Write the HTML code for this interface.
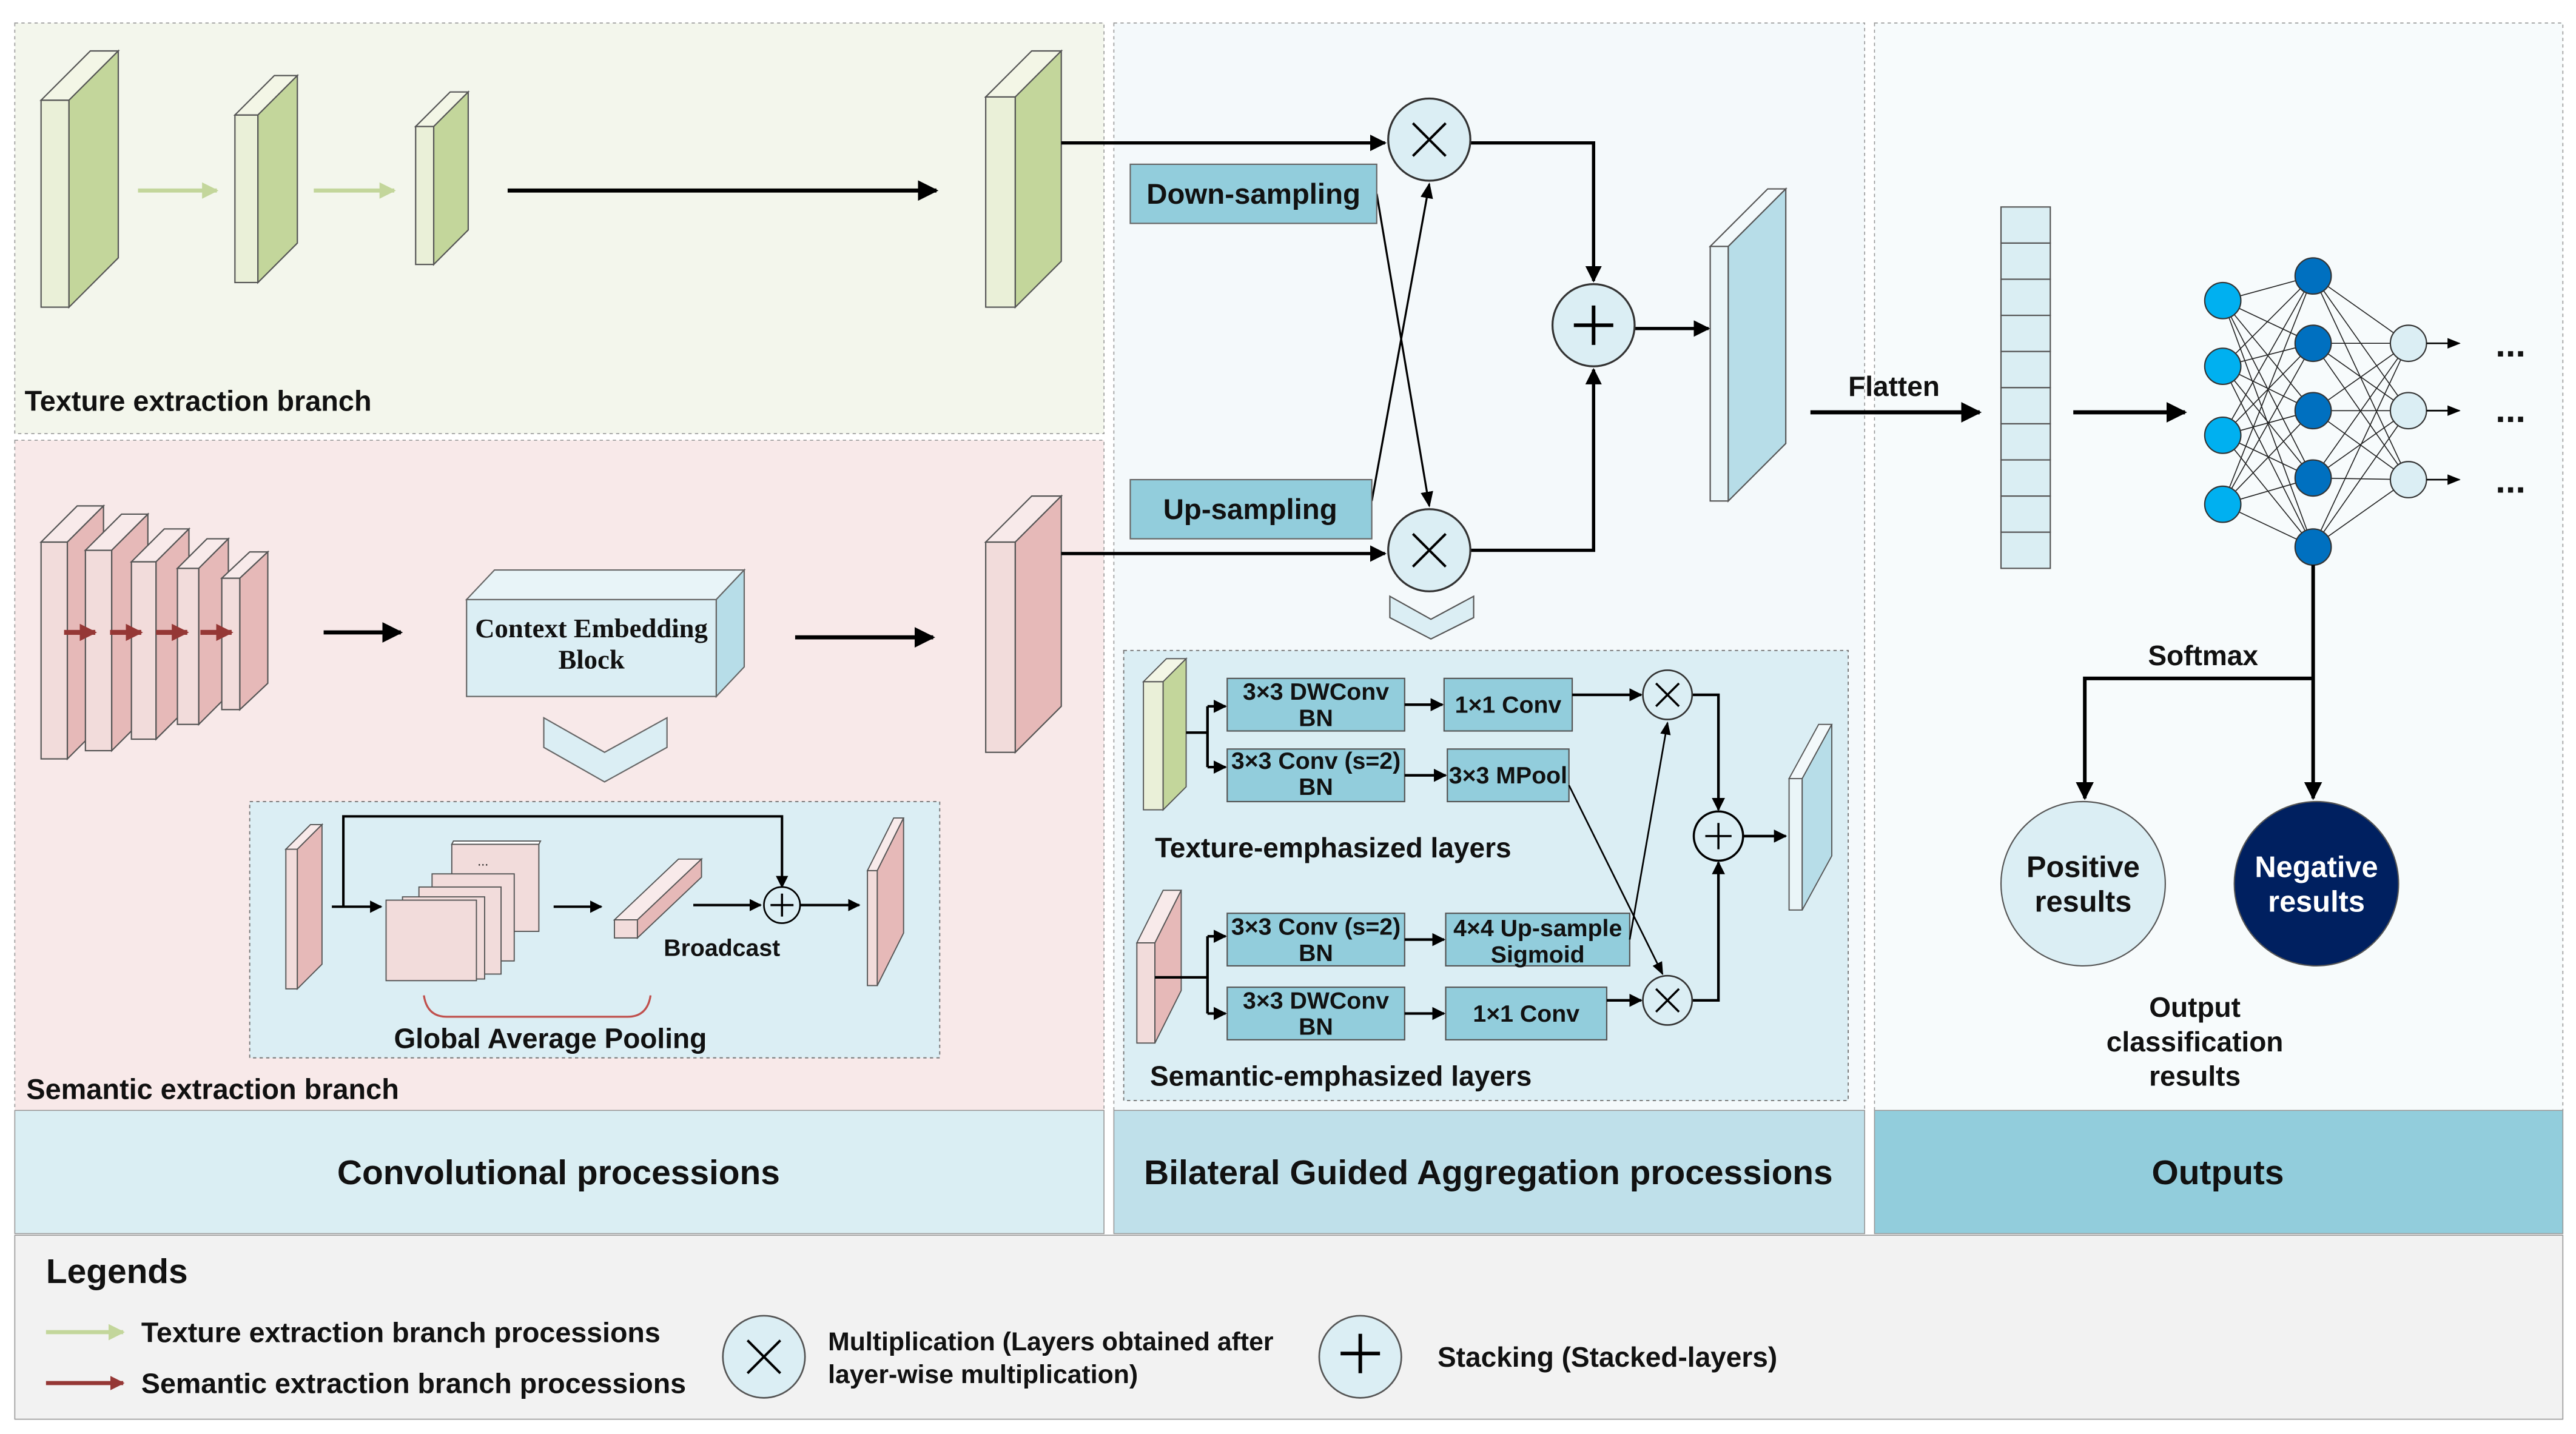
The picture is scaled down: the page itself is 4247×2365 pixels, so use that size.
<!DOCTYPE html>
<html><head><meta charset="utf-8"><style>
html,body{margin:0;padding:0;background:#fff;}
svg{display:block;}
text{font-family:"Liberation Sans",Arial,sans-serif;font-weight:bold;fill:#111;}
.serif{font-family:"Liberation Serif",serif;}
</style></head><body>
<svg width="4247" height="2365" viewBox="0 0 1568 873" preserveAspectRatio="none" xmlns="http://www.w3.org/2000/svg">
<defs>
<marker id="a" viewBox="0 0 10 10" refX="9" refY="5" markerWidth="5" markerHeight="5" orient="auto"><path d="M0,0 L10,5 L0,10 z" fill="#000"/></marker>
<marker id="as" viewBox="0 0 10 10" refX="9" refY="5" markerWidth="8" markerHeight="8" orient="auto"><path d="M0,1 L10,5 L0,9 z" fill="#000"/></marker>
<marker id="ag" viewBox="0 0 10 10" refX="9" refY="5" markerWidth="4" markerHeight="4" orient="auto"><path d="M0,0 L10,5 L0,10 z" fill="#c3d69b"/></marker>
<marker id="ar" viewBox="0 0 10 10" refX="9" refY="5" markerWidth="3.5" markerHeight="3.5" orient="auto"><path d="M0,0 L10,5 L0,10 z" fill="#953735"/></marker>
</defs>
<rect width="1568" height="873" fill="#fff"/>
<!-- panels -->
<rect x="9" y="14" width="663" height="250" fill="#f3f6ec" stroke="#999" stroke-width="0.6" stroke-dasharray="2,2"/>
<rect x="9" y="268" width="663" height="408" fill="#f8e9e9" stroke="#999" stroke-width="0.6" stroke-dasharray="2,2"/>
<rect x="678" y="14" width="457" height="662" fill="#f4f9fb" stroke="#999" stroke-width="0.6" stroke-dasharray="2,2"/>
<rect x="1141" y="14" width="419" height="662" fill="#f7fbfc" stroke="#999" stroke-width="0.6" stroke-dasharray="2,2"/>
<rect x="9" y="676" width="663" height="75" fill="#daeef3" stroke="#999" stroke-width="0.6"/>
<rect x="678" y="676" width="457" height="75" fill="#bfe0ea" stroke="#999" stroke-width="0.6"/>
<rect x="1141" y="676" width="419" height="75" fill="#92cddc" stroke="#999" stroke-width="0.6"/>
<text x="340" y="721" font-size="21" text-anchor="middle">Convolutional processions</text>
<text x="906" y="721" font-size="21" text-anchor="middle">Bilateral Guided Aggregation processions</text>
<text x="1350" y="721" font-size="21" text-anchor="middle">Outputs</text>
<rect x="9" y="752" width="1551" height="112" fill="#f2f2f2" stroke="#999" stroke-width="0.6"/>

<!-- texture slabs -->
<g stroke="#555" stroke-width="0.8">
<rect x="25" y="61" width="17" height="126" fill="#eaf0d8"/><polygon points="25,61 42,61 72,31 55,31" fill="#f3f6e6"/><polygon points="42,61 72,31 72,157 42,187" fill="#c3d69b"/>
<rect x="143" y="70" width="14" height="102" fill="#eaf0d8"/><polygon points="143,70 157,70 181,46 167,46" fill="#f3f6e6"/><polygon points="157,70 181,46 181,148 157,172" fill="#c3d69b"/>
<rect x="253" y="77" width="11" height="84" fill="#eaf0d8"/><polygon points="253,77 264,77 285,56 274,56" fill="#f3f6e6"/><polygon points="264,77 285,56 285,140 264,161" fill="#c3d69b"/>
<rect x="600" y="59" width="18" height="128" fill="#eaf0d8"/><polygon points="600,59 618,59 646,31 628,31" fill="#f3f6e6"/><polygon points="618,59 646,31 646,159 618,187" fill="#c3d69b"/>
</g>
<line x1="84" y1="116" x2="132" y2="116" stroke="#c3d69b" stroke-width="2.5" marker-end="url(#ag)"/>
<line x1="191" y1="116" x2="240" y2="116" stroke="#c3d69b" stroke-width="2.5" marker-end="url(#ag)"/>
<line x1="309" y1="116" x2="570" y2="116" stroke="#000" stroke-width="2.5" marker-end="url(#a)"/>
<text x="15" y="250" font-size="17.3">Texture extraction branch</text>

<!-- semantic slabs -->
<g stroke="#555" stroke-width="0.8">
<rect x="25" y="330" width="16" height="132" fill="#f2dcdb"/><polygon points="25,330 41,330 63,308 47,308" fill="#f8eaea"/><polygon points="41,330 63,308 63,440 41,462" fill="#e6b9b8"/>
<rect x="52" y="335" width="16" height="122" fill="#f2dcdb"/><polygon points="52,335 68,335 90,313 74,313" fill="#f8eaea"/><polygon points="68,335 90,313 90,435 68,457" fill="#e6b9b8"/>
<rect x="80" y="342" width="15" height="108" fill="#f2dcdb"/><polygon points="80,342 95,342 115,322 100,322" fill="#f8eaea"/><polygon points="95,342 115,322 115,430 95,450" fill="#e6b9b8"/>
<rect x="108" y="346" width="13" height="95" fill="#f2dcdb"/><polygon points="108,346 121,346 139,328 126,328" fill="#f8eaea"/><polygon points="121,346 139,328 139,423 121,441" fill="#e6b9b8"/>
<rect x="135" y="352" width="11" height="80" fill="#f2dcdb"/><polygon points="135,352 146,352 163,336 152,336" fill="#f8eaea"/><polygon points="146,352 163,336 163,416 146,432" fill="#e6b9b8"/>
<rect x="600" y="330" width="18" height="128" fill="#f2dcdb"/><polygon points="600,330 618,330 646,302 628,302" fill="#f8eaea"/><polygon points="618,330 646,302 646,430 618,458" fill="#e6b9b8"/>
</g>
<g stroke="#953735" stroke-width="3">
<line x1="39" y1="385" x2="58" y2="385" marker-end="url(#ar)"/>
<line x1="67" y1="385" x2="86" y2="385" marker-end="url(#ar)"/>
<line x1="95" y1="385" x2="114" y2="385" marker-end="url(#ar)"/>
<line x1="122" y1="385" x2="141" y2="385" marker-end="url(#ar)"/>
</g>
<line x1="197" y1="385" x2="244" y2="385" stroke="#000" stroke-width="2.5" marker-end="url(#a)"/>
<g stroke="#666" stroke-width="0.8">
<rect x="284" y="365" width="152" height="59" fill="#dbeef4"/>
<polygon points="284,365 436,365 453,347 301,347" fill="#e8f4f8"/>
<polygon points="436,365 453,347 453,406 436,424" fill="#b7dde8"/>
<polygon points="331,437 368,458 406,437 406,455 368,476 331,455" fill="#dbeef4"/>
</g>
<text x="360" y="388" font-size="16.5" text-anchor="middle" class="serif">Context Embedding</text>
<text x="360" y="407" font-size="16.5" text-anchor="middle" class="serif">Block</text>
<line x1="484" y1="388" x2="568" y2="388" stroke="#000" stroke-width="2.5" marker-end="url(#a)"/>

<!-- GAP box -->
<rect x="152" y="488" width="420" height="156" fill="#dbeef4" stroke="#777" stroke-width="0.7" stroke-dasharray="2,2"/>
<g stroke="#555" stroke-width="0.7">
<rect x="174" y="517" width="7" height="85" fill="#f2dcdb"/><polygon points="174,517 181,517 196,502 189,502" fill="#f8eaea"/><polygon points="181,517 196,502 196,587 181,602" fill="#e6b9b8"/>
<rect x="275" y="514" width="53" height="53" fill="#f2dcdb"/><polygon points="275,514 328,514 329,512 276,512" fill="#fff"/>
<rect x="263" y="532" width="50" height="53" fill="#f2dcdb"/>
<rect x="255" y="540" width="50" height="53" fill="#f2dcdb"/>
<rect x="245" y="546" width="50" height="50" fill="#f2dcdb"/>
<rect x="235" y="548" width="55" height="49" fill="#f2dcdb"/>
<polygon points="374,560 388,560 427,523 413,523" fill="#f8eaea"/>
<rect x="374" y="560" width="14" height="11" fill="#f2dcdb"/>
<polygon points="388,560 427,523 427,534 388,571" fill="#e6b9b8"/>
<rect x="528" y="530" width="6" height="70" fill="#f2dcdb"/><polygon points="528,530 534,530 550,498 544,498" fill="#f8eaea"/><polygon points="534,530 550,498 550,568 534,600" fill="#e6b9b8"/>
</g>
<text x="294" y="527" font-size="8" fill="#777" text-anchor="middle" style="font-weight:normal">...</text>
<g stroke="#000" stroke-width="1.5" fill="none">
<line x1="202" y1="552" x2="232" y2="552" marker-end="url(#a)"/>
<polyline points="209,552 209,497 476,497 476,540" marker-end="url(#a)"/>
<line x1="337" y1="552" x2="366" y2="552" marker-end="url(#a)"/>
<line x1="422" y1="551" x2="463" y2="551" marker-end="url(#a)"/>
<line x1="487" y1="551" x2="523" y2="551" marker-end="url(#a)"/>
</g>
<circle cx="476" cy="551" r="11" fill="#dbeef4" stroke="#000" stroke-width="1"/>
<path d="M469,551 H483 M476,544 V558" stroke="#000" stroke-width="1.3"/>
<text x="404" y="582" font-size="14.5">Broadcast</text>
<path d="M258,606 Q260,619 272,619 L382,619 Q394,619 396,606" stroke="#c0504d" stroke-width="1.2" fill="none"/>
<text x="335" y="638" font-size="17" text-anchor="middle">Global Average Pooling</text>
<text x="16" y="669" font-size="17.3">Semantic extraction branch</text>

<!-- middle top -->
<g stroke="#000" stroke-width="2" fill="none">
<line x1="646" y1="87" x2="843" y2="87" marker-end="url(#a)"/>
<line x1="646" y1="337" x2="843" y2="337" marker-end="url(#a)"/>
<polyline points="895,87 970,87 970,171" marker-end="url(#a)"/>
<polyline points="895,335 970,335 970,225" marker-end="url(#a)"/>
<line x1="995" y1="200" x2="1040" y2="200" marker-end="url(#a)"/>
</g>
<g stroke="#000" stroke-width="1.2">
<line x1="838" y1="118" x2="870" y2="308" marker-end="url(#as)"/>
<line x1="835" y1="305" x2="870" y2="112" marker-end="url(#as)"/>
</g>
<rect x="688" y="100" width="150" height="36" fill="#92cddc" stroke="#666" stroke-width="0.8"/>
<text x="763" y="124" font-size="17.5" text-anchor="middle">Down-sampling</text>
<rect x="688" y="292" width="147" height="36" fill="#92cddc" stroke="#666" stroke-width="0.8"/>
<text x="761" y="316" font-size="17.5" text-anchor="middle">Up-sampling</text>
<g stroke="#333" stroke-width="1.2">
<circle cx="870" cy="85" r="25" fill="#dbeef4"/>
<circle cx="870" cy="335" r="25" fill="#dbeef4"/>
<circle cx="970" cy="198" r="25" fill="#dbeef4"/>
</g>
<path d="M860,75 L880,95 M880,75 L860,95 M860,325 L880,345 M880,325 L860,345" stroke="#000" stroke-width="1.5"/>
<path d="M958,198 H982 M970,186 V210" stroke="#000" stroke-width="2.2"/>
<g stroke="#555" stroke-width="0.8">
<rect x="1041" y="150" width="11" height="155" fill="#eaf5f8"/><polygon points="1041,150 1052,150 1087,115 1076,115" fill="#f3f9fb"/><polygon points="1052,150 1087,115 1087,270 1052,305" fill="#b7dde8"/>
<polygon points="846,363 871,377 897,363 897,376 871,389 846,376" fill="#dbeef4"/>
</g>

<!-- inner BGA box -->
<rect x="684" y="396" width="441" height="274" fill="#dbeef4" stroke="#777" stroke-width="0.7" stroke-dasharray="2,2"/>
<g stroke="#555" stroke-width="0.7">
<rect x="696" y="415" width="12" height="78" fill="#eaf0d8"/><polygon points="696,415 708,415 722,401 710,401" fill="#f3f6e6"/><polygon points="708,415 722,401 722,479 708,493" fill="#c3d69b"/>
<rect x="692" y="574" width="11" height="61" fill="#f2dcdb"/><polygon points="692,574 703,574 719,542 708,542" fill="#f8eaea"/><polygon points="703,574 719,542 719,603 703,635" fill="#e6b9b8"/>
<rect x="1089" y="474" width="8" height="80" fill="#eaf5f8"/><polygon points="1089,474 1097,474 1115,441 1107,441" fill="#f3f9fb"/><polygon points="1097,474 1115,441 1115,521 1097,554" fill="#b7dde8"/>
</g>
<g fill="#92cddc" stroke="#555" stroke-width="0.8">
<rect x="747" y="413" width="108" height="32"/>
<rect x="879" y="413" width="78" height="32"/>
<rect x="747" y="456" width="108" height="32"/>
<rect x="881" y="456" width="74" height="32"/>
<rect x="747" y="556" width="108" height="32"/>
<rect x="880" y="556" width="112" height="32"/>
<rect x="747" y="601" width="108" height="32"/>
<rect x="880" y="601" width="98" height="32"/>
</g>
<g font-size="14.5" text-anchor="middle">
<text x="801" y="426">3×3 DWConv</text><text x="801" y="442">BN</text>
<text x="918" y="434">1×1 Conv</text>
<text x="801" y="468">3×3 Conv (s=2)</text><text x="801" y="484">BN</text>
<text x="918" y="477">3×3 MPool</text>
<text x="801" y="569">3×3 Conv (s=2)</text><text x="801" y="585">BN</text>
<text x="936" y="570">4×4 Up-sample</text><text x="936" y="586">Sigmoid</text>
<text x="801" y="614">3×3 DWConv</text><text x="801" y="630">BN</text>
<text x="929" y="622">1×1 Conv</text>
</g>
<g stroke="#000" stroke-width="1.6" fill="none">
<polyline points="722,446 735,446"/>
<polyline points="735,430 735,467"/>
<line x1="735" y1="430" x2="746" y2="430" marker-end="url(#a)"/>
<line x1="735" y1="467" x2="746" y2="467" marker-end="url(#a)"/>
<polyline points="703,595 735,595"/>
<polyline points="735,570 735,617"/>
<line x1="735" y1="570" x2="746" y2="570" marker-end="url(#a)"/>
<line x1="735" y1="617" x2="746" y2="617" marker-end="url(#a)"/>
<line x1="855" y1="429" x2="878" y2="429" marker-end="url(#a)"/>
<line x1="855" y1="472" x2="880" y2="472" marker-end="url(#a)"/>
<line x1="855" y1="572" x2="879" y2="572" marker-end="url(#a)"/>
<line x1="855" y1="617" x2="879" y2="617" marker-end="url(#a)"/>
<line x1="957" y1="423" x2="999" y2="423" marker-end="url(#a)"/>
<line x1="978" y1="609" x2="999" y2="609" marker-end="url(#a)"/>
<polyline points="1030,423 1046,423 1046,493" marker-end="url(#a)"/>
<polyline points="1030,609 1046,609 1046,525" marker-end="url(#a)"/>
<line x1="1061" y1="509" x2="1087" y2="509" marker-end="url(#a)"/>
</g>
<g stroke="#000" stroke-width="1">
<line x1="955" y1="478" x2="1012" y2="593" marker-end="url(#as)"/>
<line x1="992" y1="572" x2="1015" y2="440" marker-end="url(#as)"/>
</g>
<g stroke="#333" stroke-width="1" fill="#dbeef4">
<circle cx="1015" cy="423" r="15"/><circle cx="1015" cy="609" r="15"/>
<circle cx="1046" cy="509" r="15" stroke="#000" stroke-width="1.3"/>
</g>
<path d="M1008,416 L1022,430 M1022,416 L1008,430 M1008,602 L1022,616 M1022,602 L1008,616 M1038,509 H1054 M1046,501 V517" stroke="#000" stroke-width="1.3"/>
<text x="703" y="522" font-size="17">Texture-emphasized layers</text>
<text x="700" y="661" font-size="17">Semantic-emphasized layers</text>

<!-- outputs -->
<text x="1125" y="241" font-size="17">Flatten</text>
<line x1="1102" y1="251" x2="1205" y2="251" stroke="#000" stroke-width="2.5" marker-end="url(#a)"/>
<g fill="#daeef3" stroke="#555" stroke-width="0.8">
<rect x="1218" y="126" width="30" height="22"/><rect x="1218" y="148" width="30" height="22"/><rect x="1218" y="170" width="30" height="22"/><rect x="1218" y="192" width="30" height="22"/><rect x="1218" y="214" width="30" height="22"/><rect x="1218" y="236" width="30" height="22"/><rect x="1218" y="258" width="30" height="22"/><rect x="1218" y="280" width="30" height="22"/><rect x="1218" y="302" width="30" height="22"/><rect x="1218" y="324" width="30" height="22"/>
</g>
<line x1="1262" y1="251" x2="1330" y2="251" stroke="#000" stroke-width="2.5" marker-end="url(#a)"/>
<g stroke="#222" stroke-width="0.6">
<path d="M1353,183 L1408,168 M1353,183 L1408,209 M1353,183 L1408,250 M1353,183 L1408,291 M1353,183 L1408,333
M1353,223 L1408,168 M1353,223 L1408,209 M1353,223 L1408,250 M1353,223 L1408,291 M1353,223 L1408,333
M1353,265 L1408,168 M1353,265 L1408,209 M1353,265 L1408,250 M1353,265 L1408,291 M1353,265 L1408,333
M1353,307 L1408,168 M1353,307 L1408,209 M1353,307 L1408,250 M1353,307 L1408,291 M1353,307 L1408,333
M1408,168 L1466,209 M1408,168 L1466,250 M1408,168 L1466,292
M1408,209 L1466,209 M1408,209 L1466,250 M1408,209 L1466,292
M1408,250 L1466,209 M1408,250 L1466,250 M1408,250 L1466,292
M1408,291 L1466,209 M1408,291 L1466,250 M1408,291 L1466,292
M1408,333 L1466,209 M1408,333 L1466,250 M1408,333 L1466,292"/>
</g>
<g stroke="#333" stroke-width="0.8">
<circle cx="1353" cy="183" r="11" fill="#00b0f0"/><circle cx="1353" cy="223" r="11" fill="#00b0f0"/><circle cx="1353" cy="265" r="11" fill="#00b0f0"/><circle cx="1353" cy="307" r="11" fill="#00b0f0"/>
<circle cx="1408" cy="168" r="11" fill="#0070c0"/><circle cx="1408" cy="209" r="11" fill="#0070c0"/><circle cx="1408" cy="250" r="11" fill="#0070c0"/><circle cx="1408" cy="291" r="11" fill="#0070c0"/><circle cx="1408" cy="333" r="11" fill="#0070c0"/>
<circle cx="1466" cy="209" r="11" fill="#dbeef4"/><circle cx="1466" cy="250" r="11" fill="#dbeef4"/><circle cx="1466" cy="292" r="11" fill="#dbeef4"/>
</g>
<g stroke="#000" stroke-width="1">
<line x1="1477" y1="209" x2="1497" y2="209" marker-end="url(#as)"/>
<line x1="1477" y1="250" x2="1497" y2="250" marker-end="url(#as)"/>
<line x1="1477" y1="292" x2="1497" y2="292" marker-end="url(#as)"/>
</g>
<text x="1519" y="217" font-size="22">...</text><text x="1519" y="257" font-size="22">...</text><text x="1519" y="300" font-size="22">...</text>
<g stroke="#000" stroke-width="2.2" fill="none">
<line x1="1408" y1="344" x2="1408" y2="486" marker-end="url(#a)"/>
<polyline points="1408,413 1269,413 1269,486" marker-end="url(#a)"/>
</g>
<text x="1341" y="405" font-size="17" text-anchor="middle">Softmax</text>
<circle cx="1268" cy="538" r="50" fill="#dbeef4" stroke="#555" stroke-width="0.8"/>
<circle cx="1410" cy="538" r="50" fill="#002060" stroke="#555" stroke-width="0.8"/>
<text x="1268" y="534" font-size="18" text-anchor="middle">Positive</text>
<text x="1268" y="555" font-size="18" text-anchor="middle">results</text>
<text x="1410" y="534" font-size="18" text-anchor="middle" style="fill:#fff">Negative</text>
<text x="1410" y="555" font-size="18" text-anchor="middle" style="fill:#fff">results</text>
<text x="1336" y="619" font-size="17" text-anchor="middle">Output</text>
<text x="1336" y="640" font-size="17" text-anchor="middle">classification</text>
<text x="1336" y="661" font-size="17" text-anchor="middle">results</text>

<!-- legend -->
<text x="28" y="781" font-size="21">Legends</text>
<line x1="28" y1="811" x2="75" y2="811" stroke="#c3d69b" stroke-width="2.5" marker-end="url(#ag)"/>
<text x="86" y="817" font-size="17.2">Texture extraction branch processions</text>
<line x1="28" y1="842" x2="75" y2="842" stroke="#953735" stroke-width="2.5" marker-end="url(#ar)"/>
<text x="86" y="848" font-size="17.2">Semantic extraction branch processions</text>
<circle cx="465" cy="826" r="25" fill="#dbeef4" stroke="#555" stroke-width="1"/>
<path d="M455,816 L475,836 M475,816 L455,836" stroke="#000" stroke-width="1.5"/>
<text x="504" y="822" font-size="15.8">Multiplication (Layers obtained after</text>
<text x="504" y="842" font-size="15.8">layer-wise multiplication)</text>
<circle cx="828" cy="826" r="25" fill="#dbeef4" stroke="#555" stroke-width="1"/>
<path d="M816,824 H840 M828,812 V836" stroke="#000" stroke-width="2.2"/>
<text x="875" y="832" font-size="17">Stacking (Stacked-layers)</text>
</svg>
</body></html>
